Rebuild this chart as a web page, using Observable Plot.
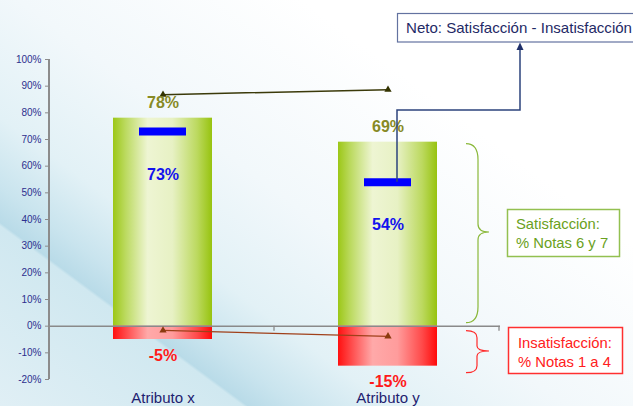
<!DOCTYPE html>
<html><head><meta charset="utf-8">
<script src="https://cdn.jsdelivr.net/npm/d3@7"></script>
<script src="https://cdn.jsdelivr.net/npm/@observablehq/plot@0.6"></script>
<style>
html,body{margin:0;padding:0;}
body{width:633px;height:406px;overflow:hidden;
background:linear-gradient(36.5deg,#e0eff5 0%,#d0e8f0 20.6%,#b9dbe8 21%,#c9e4ee 25%,#e2f1f6 33%,#f2f8fb 48%,#ffffff 72%);
font-family:"Liberation Sans",Arial,sans-serif;}
</style></head><body><div id="chart"></div>
<script>
const categories = ["Atributo x", "Atributo y"];
const satisfaccion = [0.78, 0.69];
const insatisfaccion = [-0.05, -0.15];
const neto = [0.73, 0.54];
const satAnterior = [0.868, 0.887];
const insatAnterior = [-0.016, -0.038];
const yTicks = [-0.2,-0.1,0,0.1,0.2,0.3,0.4,0.5,0.6,0.7,0.8,0.9,1.0];
const pct = v => Math.round(v * 100) + "%";

const rows = categories.map((c, i) => ({
  cat: c, sat: satisfaccion[i], ins: insatisfaccion[i], net: neto[i],
  satA: satAnterior[i], insA: insatAnterior[i]
}));

const chart = Plot.plot({
  width: 633, height: 406,
  marginLeft: 49, marginRight: 133, marginTop: 59, marginBottom: 27,
  style: {background: "transparent", overflow: "visible", fontFamily: "'Liberation Sans', Arial, sans-serif"},
  x: {domain: categories, paddingInner: 0.56, paddingOuter: 0.28, label: null},
  y: {domain: [-0.2, 1], label: null},
  marks: [
    Plot.barY(rows, {x: "cat", y1: 0, y2: "sat", fill: "url(#gradSat)"}),
    Plot.barY(rows, {x: "cat", y1: 0, y2: "ins", fill: "url(#gradIns)"}),
    Plot.ruleY([0], {stroke: "#8a8a8a", strokeWidth: 1.5}),
    Plot.tickY(rows, {x: "cat", y: "net", stroke: "#0000ff", strokeWidth: 8, insetLeft: 26, insetRight: 26}),
    Plot.line(rows, {x: "cat", y: "satA", stroke: "#3b3a0a", strokeWidth: 1.5}),
    Plot.dot(rows, {x: "cat", y: "satA", symbol: "triangle", r: 2.7, fill: "#333300", stroke: "none"}),
    Plot.line(rows, {x: "cat", y: "insA", stroke: "#a0401a", strokeWidth: 1.3}),
    Plot.dot(rows, {x: "cat", y: "insA", symbol: "triangle", r: 2.7, fill: "#8b3a0f", stroke: "none"}),
    Plot.text(rows, {x: "cat", y: "sat", text: d => pct(d.sat), dy: -15, fill: "#878a25", fontSize: 16, fontWeight: "bold"}),
    Plot.text(rows, {x: "cat", y: "net", text: d => pct(d.net), dy: 43, fill: "#1212ee", fontSize: 16, fontWeight: "bold"}),
    Plot.text(rows, {x: "cat", y: "ins", text: d => pct(d.ins), dy: 16, fill: "#ff1a1a", fontSize: 16, fontWeight: "bold"}),
    Plot.axisY({ticks: yTicks, tickFormat: pct, tickSize: 4, tickPadding: 4, fontSize: 10, fill: "#2d2f8e", stroke: "#8c8c8c", label: null}),
    Plot.axisX({tickSize: 0, tickPadding: 13, fontSize: 15, fill: "#1e2170", label: null})
  ]
});
document.getElementById("chart").appendChild(chart);

const svg = d3.select(chart);
const xs = chart.scale("x"), ys = chart.scale("y");
const defs = svg.insert("defs", ":first-child");
function grad(id, stops) {
  const gr = defs.append("linearGradient").attr("id", id)
    .attr("x1", 0).attr("x2", 1).attr("y1", 0).attr("y2", 0);
  stops.forEach(([o, c]) => gr.append("stop").attr("offset", o).attr("stop-color", c));
}
grad("gradSat", [[0, "#9cc717"], [0.12, "#bad95c"], [0.35, "#eef5d3"], [0.6, "#e7f1c4"], [0.85, "#bcd95f"], [1, "#97c30f"]]);
grad("gradIns", [[0, "#ff1010"], [0.35, "#ffa9a9"], [0.6, "#ff9c9c"], [0.85, "#ff4a4a"], [1, "#ff0a0a"]]);

const g = svg.append("g").attr("text-anchor", "start");
const x0 = xs.range[0];
const yZero = ys.apply(0);
g.append("line").attr("x1", x0).attr("x2", x0)
  .attr("y1", ys.apply(yTicks[0])).attr("y2", ys.apply(yTicks[yTicks.length - 1]))
  .attr("stroke", "#8c8c8c").attr("stroke-width", 2);
[1, 2].forEach(k => {
  const xx = x0 + k * xs.step;
  g.append("line").attr("x1", xx).attr("x2", xx).attr("y1", yZero).attr("y2", yZero + 5)
    .attr("stroke", "#8a8a8a").attr("stroke-width", 1.3);
});

function brace(xa, xb, xt, ya, yb, ym, r, r2) {
  return `M${xa},${ya} Q${xb},${ya} ${xb},${ya + r} L${xb},${ym - r2} Q${xb},${ym} ${xt},${ym} Q${xb},${ym} ${xb},${ym + r2} L${xb},${yb - r} Q${xb},${yb} ${xa},${yb}`;
}
g.append("path").attr("d", brace(466, 478, 489, ys.apply(0.69) + 2, yZero - 3, 232, 16, 8))
  .attr("fill", "none").attr("stroke", "#8ab83a").attr("stroke-width", 1.2);
g.append("path").attr("d", brace(466, 477, 489, yZero + 5, ys.apply(-0.15) + 7, 351, 7, 5))
  .attr("fill", "none").attr("stroke", "#ff2a2a").attr("stroke-width", 1.2);

function box(x, y, w, h, stroke, lines, color, tx, ty, fs) {
  g.append("rect").attr("x", x).attr("y", y).attr("width", w).attr("height", h)
    .attr("fill", "#ffffff").attr("stroke", stroke).attr("stroke-width", 1.5);
  lines.forEach((t, i) => g.append("text").attr("x", tx).attr("y", ty + i * 19)
    .attr("fill", color).attr("font-size", fs).attr("text-anchor", "start").text(t));
}
box(507.5, 209.5, 112, 47, "#93c050", ["Satisfacción:", "% Notas 6 y 7"], "#6aa121", 516, 229, 14.8);
box(508.5, 327.5, 114, 46, "#ff3030", ["Insatisfacción:", "% Notas 1 a 4"], "#ff2020", 518, 348, 14.8);

g.append("rect").attr("x", 397.5).attr("y", 13.5).attr("width", 260).attr("height", 28.5)
  .attr("fill", "#ffffff").attr("stroke", "#6372a0").attr("stroke-width", 1.2);
g.append("text").attr("x", 406).attr("y", 33).attr("fill", "#1f2a66").attr("font-size", 15)
  .attr("text-anchor", "start")
  .attr("textLength", 226).attr("lengthAdjust", "spacingAndGlyphs")
  .text("Neto: Satisfacción - Insatisfacción");
const cx = 397;
g.append("path").attr("d", `M${cx},${ys.apply(neto[1])} L${cx},110 L520,110 L520,49`)
  .attr("fill", "none").attr("stroke", "#2d437c").attr("stroke-width", 1.5);
g.append("path").attr("d", "M520,42.5 L516.5,50 L523.5,50 Z").attr("fill", "#1f2f6a");
</script></body></html>
